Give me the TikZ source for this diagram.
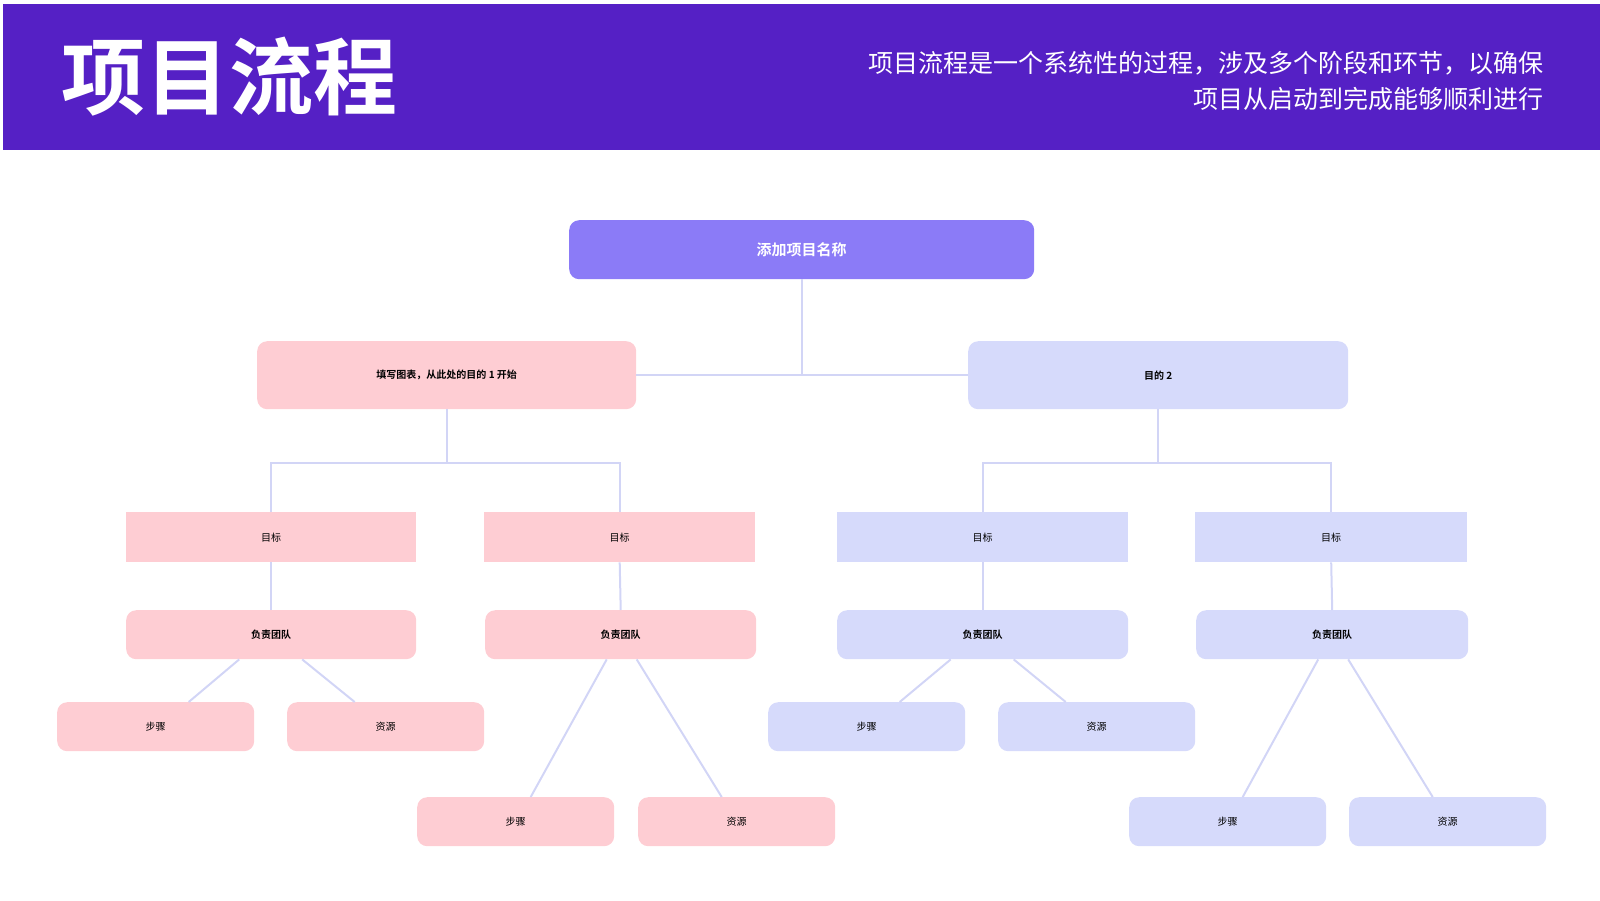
\documentclass[tikz,border=0pt]{standalone}
\usepackage{fontspec}
\newfontfamily\cjk{Noto Sans CJK SC}
\newfontfamily\cjkb{Noto Sans CJK SC Bold}
\usetikzlibrary{positioning,calc}
\definecolor{headbg}{HTML}{5520C5}
\definecolor{rootbg}{HTML}{8B7BF7}
\definecolor{pinkbg}{HTML}{FECDD3}
\definecolor{bluebg}{HTML}{D6DAFB}
\definecolor{linkc}{HTML}{D2D5F6}
\tikzset{
  box/.style={rectangle, draw=none, inner sep=0pt, anchor=north west, text centered},
  rbox/.style={box, rounded corners=10pt},
  link/.style={draw=linkc, line width=2pt},
  txt/.style={font=\cjk\fontsize{10}{12}\selectfont},
  txtb/.style={font=\cjkb\fontsize{10}{12}\selectfont}
}
\begin{document}
\begin{tikzpicture}[x=1pt,y=-1pt]
\useasboundingbox (0,0) rectangle (1600,900);
\fill[headbg] (3,4) rectangle (1600,150);
\node[anchor=west, text=white, font=\cjkb\fontsize{84}{90}\selectfont] (title) at (58,77) {项目流程};
\node[anchor=east, align=right, text=white, font=\cjk\fontsize{25}{36}\selectfont] (sub) at (1547,81)
  {项目流程是一个系统性的过程，涉及多个阶段和环节，以确保\\项目从启动到完成能够顺利进行};

% root
\node[rbox, fill=rootbg, minimum width=465pt, minimum height=59pt, text=white, font=\cjkb\fontsize{15}{18}\selectfont] (root) at (569,220) {添加项目名称};
% level 1
\node[rbox, fill=pinkbg, minimum width=379pt, minimum height=68pt, txtb] (aim1) at (257,341) {填写图表，从此处的目的 1 开始};
\node[rbox, fill=bluebg, minimum width=380pt, minimum height=68pt, txtb] (aim2) at (968,341) {目的 2};
% goals
\node[box, fill=pinkbg, minimum width=290pt, minimum height=50pt, txt] (g1) at (126,512) {目标};
\node[box, fill=pinkbg, minimum width=271pt, minimum height=50pt, txt] (g2) at (484,512) {目标};
\node[box, fill=bluebg, minimum width=291pt, minimum height=50pt, txt] (g3) at (837,512) {目标};
\node[box, fill=bluebg, minimum width=272pt, minimum height=50pt, txt] (g4) at (1195,512) {目标};
% teams
\node[rbox, fill=pinkbg, minimum width=290pt, minimum height=49pt, txtb] (t1) at (126,610) {负责团队};
\node[rbox, fill=pinkbg, minimum width=271pt, minimum height=49pt, txtb] (t2) at (485,610) {负责团队};
\node[rbox, fill=bluebg, minimum width=291pt, minimum height=49pt, txtb] (t3) at (837,610) {负责团队};
\node[rbox, fill=bluebg, minimum width=272pt, minimum height=49pt, txtb] (t4) at (1196,610) {负责团队};
% steps and resources
\node[rbox, fill=pinkbg, minimum width=197pt, minimum height=49pt, txt] (s1) at (57,702) {步骤};
\node[rbox, fill=pinkbg, minimum width=197pt, minimum height=49pt, txt] (r1) at (287,702) {资源};
\node[rbox, fill=pinkbg, minimum width=197pt, minimum height=49pt, txt] (s2) at (417,797) {步骤};
\node[rbox, fill=pinkbg, minimum width=197pt, minimum height=49pt, txt] (r2) at (638,797) {资源};
\node[rbox, fill=bluebg, minimum width=197pt, minimum height=49pt, txt] (s3) at (768,702) {步骤};
\node[rbox, fill=bluebg, minimum width=197pt, minimum height=49pt, txt] (r3) at (998,702) {资源};
\node[rbox, fill=bluebg, minimum width=197pt, minimum height=49pt, txt] (s4) at (1129,797) {步骤};
\node[rbox, fill=bluebg, minimum width=197pt, minimum height=49pt, txt] (r4) at (1349,797) {资源};

% connectors
\draw[link] (root.south) -- ++(0,95) coordinate (j0);
\draw[link] (aim1.east) -- (aim2.west);
\draw[link] (aim1.south) -- ++(0,54) coordinate (j1);
\draw[link] (g1.north) |- (j1) -| (g2.north);
\draw[link] (aim2.south) -- ++(0,54) coordinate (j2);
\draw[link] (g3.north) |- (j2) -| (g4.north);
\foreach \i in {1,2,3,4} \draw[link] (g\i.south) -- (t\i.north);
\draw[link] ([xshift=-32pt]t1.south) -- ([xshift=33pt]s1.north);
\draw[link] ([xshift=31pt]t1.south) -- ([xshift=-31pt]r1.north);
\draw[link] ([xshift=-32pt]t3.south) -- ([xshift=33pt]s3.north);
\draw[link] ([xshift=31pt]t3.south) -- ([xshift=-31pt]r3.north);
\draw[link] ([xshift=-14pt]t2.south) -- ([xshift=15pt]s2.north);
\draw[link] ([xshift=16pt]t2.south) -- ([xshift=-15pt]r2.north);
\draw[link] ([xshift=-14pt]t4.south) -- ([xshift=15pt]s4.north);
\draw[link] ([xshift=16pt]t4.south) -- ([xshift=-15pt]r4.north);
\end{tikzpicture}
\end{document}
